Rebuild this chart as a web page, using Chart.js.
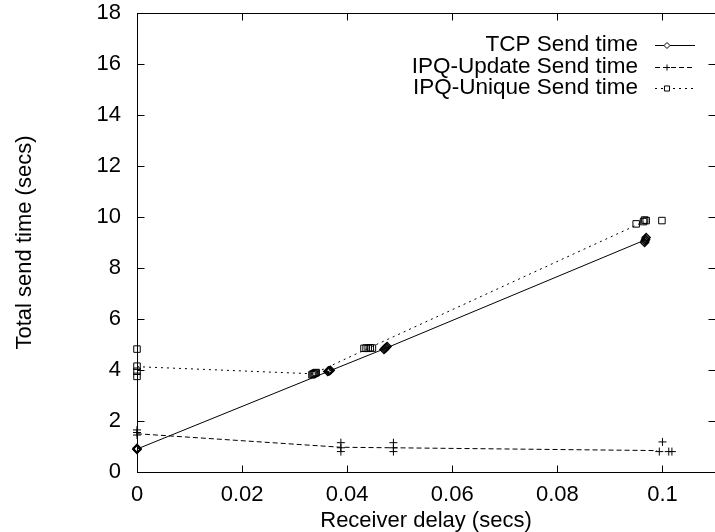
<!DOCTYPE html>
<html>
<head>
<meta charset="utf-8">
<script src="https://cdn.jsdelivr.net/npm/chart.js@4.4.1/dist/chart.umd.min.js"></script>
<style>
  html, body { margin: 0; padding: 0; background: #fff; overflow: hidden; }
  canvas { display: block; }
</style>
</head>
<body>
<canvas id="graphe" width="715" height="532"></canvas>
<script>
// --- données ---
const xTicks = [0, 0.02, 0.04, 0.06, 0.08, 0.1];
const yTicks = [0, 2, 4, 6, 8, 10, 12, 14, 16, 18];

const seriesNames = ['TCP Send time', 'IPQ-Update Send time', 'IPQ-Unique Send time'];

// courbes (moyennes)
const tcpLineX = [0, 0.0366, 0.0473, 0.0967];
const tcpLineY = [0.9, 3.96, 4.85, 9.1];
const updLineX = [0, 0.0388, 0.0488, 0.099];
const updLineY = [1.5, 0.97, 0.95, 0.84];
const uniLineX = [0, 0.0336, 0.044, 0.0965];
const uniLineY = [4.13, 3.85, 4.85, 9.82];

// mesures individuelles
const tcpPtsX = [0, 0, 0, 0.0363, 0.0365, 0.0366, 0.0368, 0.0470, 0.0472, 0.0474, 0.0476, 0.0966, 0.0967, 0.0968, 0.0969];
const tcpPtsY = [0.88, 0.9, 0.93, 3.94, 3.96, 3.97, 3.99, 4.8, 4.84, 4.88, 4.92, 9.0, 9.07, 9.13, 9.2];
const updPtsX = [0, 0, 0, 0.0388, 0.0388, 0.0388, 0.0488, 0.0488, 0.0488, 0.1, 0.0994, 0.1012, 0.1018];
const updPtsY = [1.65, 1.55, 1.45, 1.15, 0.95, 0.8, 1.15, 0.95, 0.8, 1.18, 0.8, 0.8, 0.8];
const uniPtsX = [0, 0, 0, 0, 0.0333, 0.0335, 0.0337, 0.0339, 0.0341, 0.0432, 0.0436, 0.0440, 0.0444, 0.0448, 0.095, 0.0964, 0.0966, 0.0969, 0.0999];
const uniPtsY = [4.82, 4.15, 3.95, 3.75, 3.81, 3.84, 3.86, 3.88, 3.9, 4.85, 4.86, 4.85, 4.87, 4.86, 9.73, 9.82, 9.88, 9.86, 9.86];

const FONT = '"Liberation Sans", Arial, sans-serif';

function toXY(xs, ys) {
    return xs.map((x, i) => ({ x: x, y: ys[i] }));
}

// styles gnuplot : plein, tirets, pointillés
const dashes = [[], [5, 3], [2, 4]];
const markers = ['rectRot', 'cross', 'rect'];
const markerSizes = [4, 4, 4.6];
const markerWidths = [1.4, 1, 1];

const lines = [[tcpLineX, tcpLineY], [updLineX, updLineY], [uniLineX, uniLineY]];
const points = [[tcpPtsX, tcpPtsY], [updPtsX, updPtsY], [uniPtsX, uniPtsY]];

const datasets = [];
lines.forEach((l, i) => {
    datasets.push({
        label: seriesNames[i],
        data: toXY(l[0], l[1]),
        showLine: true,
        borderColor: '#000',
        borderWidth: 1,
        borderDash: dashes[i],
        pointRadius: 0,
        pointHoverRadius: 0
    });
});
points.forEach((p, i) => {
    datasets.push({
        label: seriesNames[i] + ' (pts)',
        data: toXY(p[0], p[1]),
        showLine: false,
        clip: false,
        pointStyle: markers[i],
        pointRadius: markerSizes[i],
        pointBorderColor: '#000',
        pointBackgroundColor: 'rgba(0,0,0,0)',
        pointBorderWidth: markerWidths[i]
    });
});

// cadre + graduations intérieures (style gnuplot)
const cadre = {
    id: 'cadre',
    afterDraw(chart) {
        const ctx = chart.ctx;
        const a = chart.chartArea;
        const sx = chart.scales.x, sy = chart.scales.y;
        const L = Math.round(a.left) + 0.5, R = Math.round(a.right) + 0.5;
        const T = Math.round(a.top) + 0.5, B = Math.round(a.bottom) + 0.5;
        ctx.save();
        ctx.strokeStyle = '#000';
        ctx.lineWidth = 1;
        ctx.setLineDash([]);
        ctx.strokeRect(L, T, R - L, B - T);
        ctx.beginPath();
        xTicks.forEach(v => {
            const px = Math.round(sx.getPixelForValue(v)) + 0.5;
            ctx.moveTo(px, B); ctx.lineTo(px, B - 7);
            ctx.moveTo(px, T); ctx.lineTo(px, T + 7);
        });
        yTicks.forEach(v => {
            const py = Math.round(sy.getPixelForValue(v)) + 0.5;
            ctx.moveTo(L, py); ctx.lineTo(L + 7, py);
            ctx.moveTo(R, py); ctx.lineTo(R - 7, py);
        });
        ctx.stroke();

        // légende
        const rows = [45, 66.5, 88];
        ctx.font = '22.5px ' + FONT;
        ctx.textAlign = 'right';
        ctx.textBaseline = 'middle';
        seriesNames.forEach((name, i) => {
            const y = rows[i];
            ctx.fillStyle = '#000';
            ctx.fillText(name, 638, y);
            ctx.beginPath();
            ctx.setLineDash(dashes[i]);
            ctx.moveTo(655, Math.round(y) + 0.5);
            ctx.lineTo(695, Math.round(y) + 0.5);
            ctx.stroke();
            ctx.setLineDash([]);
            ctx.fillStyle = '#fff';
            Chart.helpers.drawPoint(ctx, {
                pointStyle: markers[i],
                radius: markerSizes[i] - 1,
                borderWidth: 1,
                rotation: 0
            }, 667, Math.round(y) + 0.5);
        });
        ctx.restore();
    }
};

const ctx = document.getElementById('graphe').getContext('2d');
new Chart(ctx, {
    type: 'scatter',
    data: { datasets: datasets },
    options: {
        responsive: false,
        animation: false,
        events: [],
        layout: { autoPadding: false, padding: { top: 0, left: 0, bottom: 0, right: -2 } },
        plugins: {
            legend: { display: false },
            tooltip: { enabled: false }
        },
        scales: {
            x: {
                type: 'linear',
                min: 0,
                max: 0.11,
                afterFit(scale) {
                    scale.height = 60;
                    scale.paddingLeft = 0;
                    scale.paddingRight = -2;
                },
                grid: { display: false, drawTicks: false },
                border: { display: false },
                ticks: {
                    stepSize: 0.02,
                    includeBounds: false,
                    padding: 10,
                    maxRotation: 0,
                    color: '#000',
                    font: { family: FONT, size: 22 },
                    callback: v => v === 0 ? '0' : String(+v.toFixed(2))
                },
                title: {
                    display: true,
                    text: 'Receiver delay (secs)',
                    color: '#000',
                    font: { family: FONT, size: 22 },
                    padding: { top: 0, bottom: -2 }
                }
            },
            y: {
                min: 0,
                max: 18,
                afterFit(scale) {
                    scale.width = 137;
                    scale.paddingTop = 13;
                    scale.paddingBottom = 13;
                },
                grid: { display: false, drawTicks: false },
                border: { display: false },
                ticks: {
                    stepSize: 2,
                    padding: 16,
                    color: '#000',
                    font: { family: FONT, size: 22 }
                },
                title: {
                    display: true,
                    text: 'Total send time (secs)',
                    color: '#000',
                    font: { family: FONT, size: 22 },
                    padding: { top: 12, bottom: 0 }
                }
            }
        }
    },
    plugins: [cadre]
});
</script>
</body>
</html>
